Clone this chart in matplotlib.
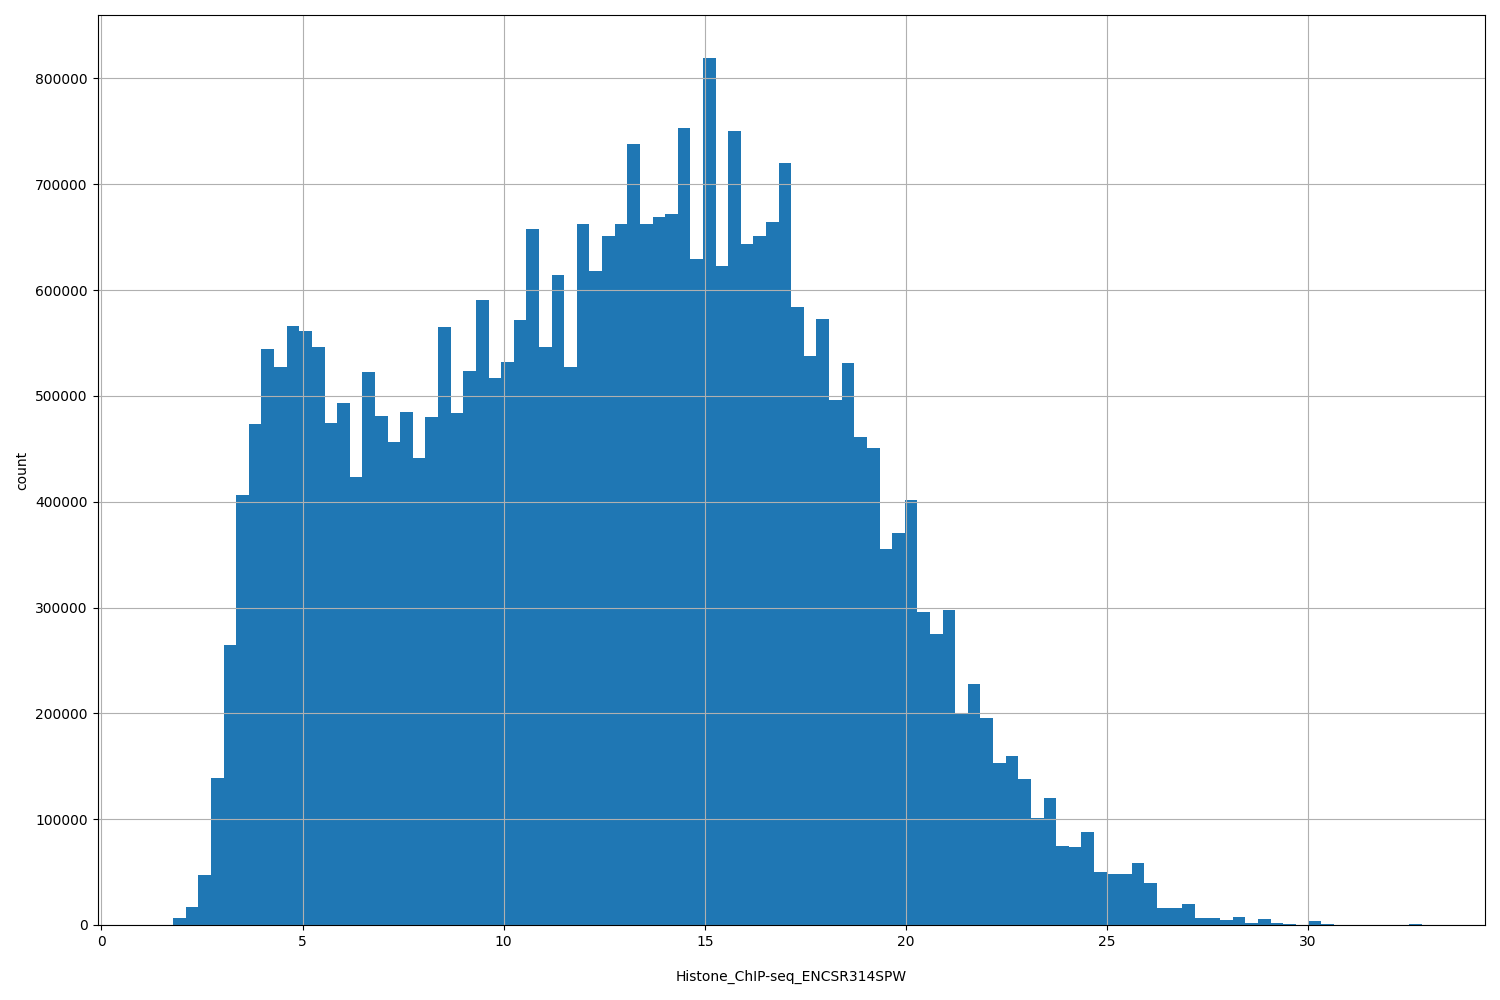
import numpy as np
import matplotlib
matplotlib.use("Agg")
import matplotlib.pyplot as plt

x_min, x_max, n_bins = 1.47, 32.83, 100
counts = [0, 7000, 17000, 47000, 139000, 265000, 406000, 473000, 544000, 527000,
          566000, 561000, 546000, 474000, 493000, 423000, 523000, 481000, 456000, 485000,
          441000, 480000, 565000, 484000, 524000, 591000, 517000, 532000, 572000, 658000,
          546000, 614000, 527000, 662000, 618000, 651000, 662000, 738000, 662000, 669000,
          672000, 753000, 629000, 819000, 623000, 750000, 644000, 651000, 664000, 720000,
          584000, 538000, 573000, 496000, 531000, 461000, 451000, 355000, 370000, 402000,
          296000, 275000, 298000, 199000, 228000, 196000, 153000, 160000, 138000, 101000,
          120000, 75000, 74000, 88000, 50000, 48000, 48000, 59000, 40000, 16000,
          16000, 20000, 7000, 7000, 5000, 8000, 1500, 6000, 2000, 500,
          0, 4000, 1000, 0, 0, 0, 0, 0, 0, 1000]

edges = np.linspace(x_min, x_max, n_bins + 1)
centers = (edges[:-1] + edges[1:]) / 2

fig, ax = plt.subplots(figsize=(15, 10), dpi=100)
ax.hist(centers, bins=edges, weights=counts, color='#1f77b4')
ax.grid(True)
ax.set_xlabel("Histone_ChIP-seq_ENCSR314SPW", labelpad=15)
ax.set_ylabel("count")
fig.subplots_adjust(left=0.065, right=0.99, top=0.985, bottom=0.075)
fig.savefig("out.png")
